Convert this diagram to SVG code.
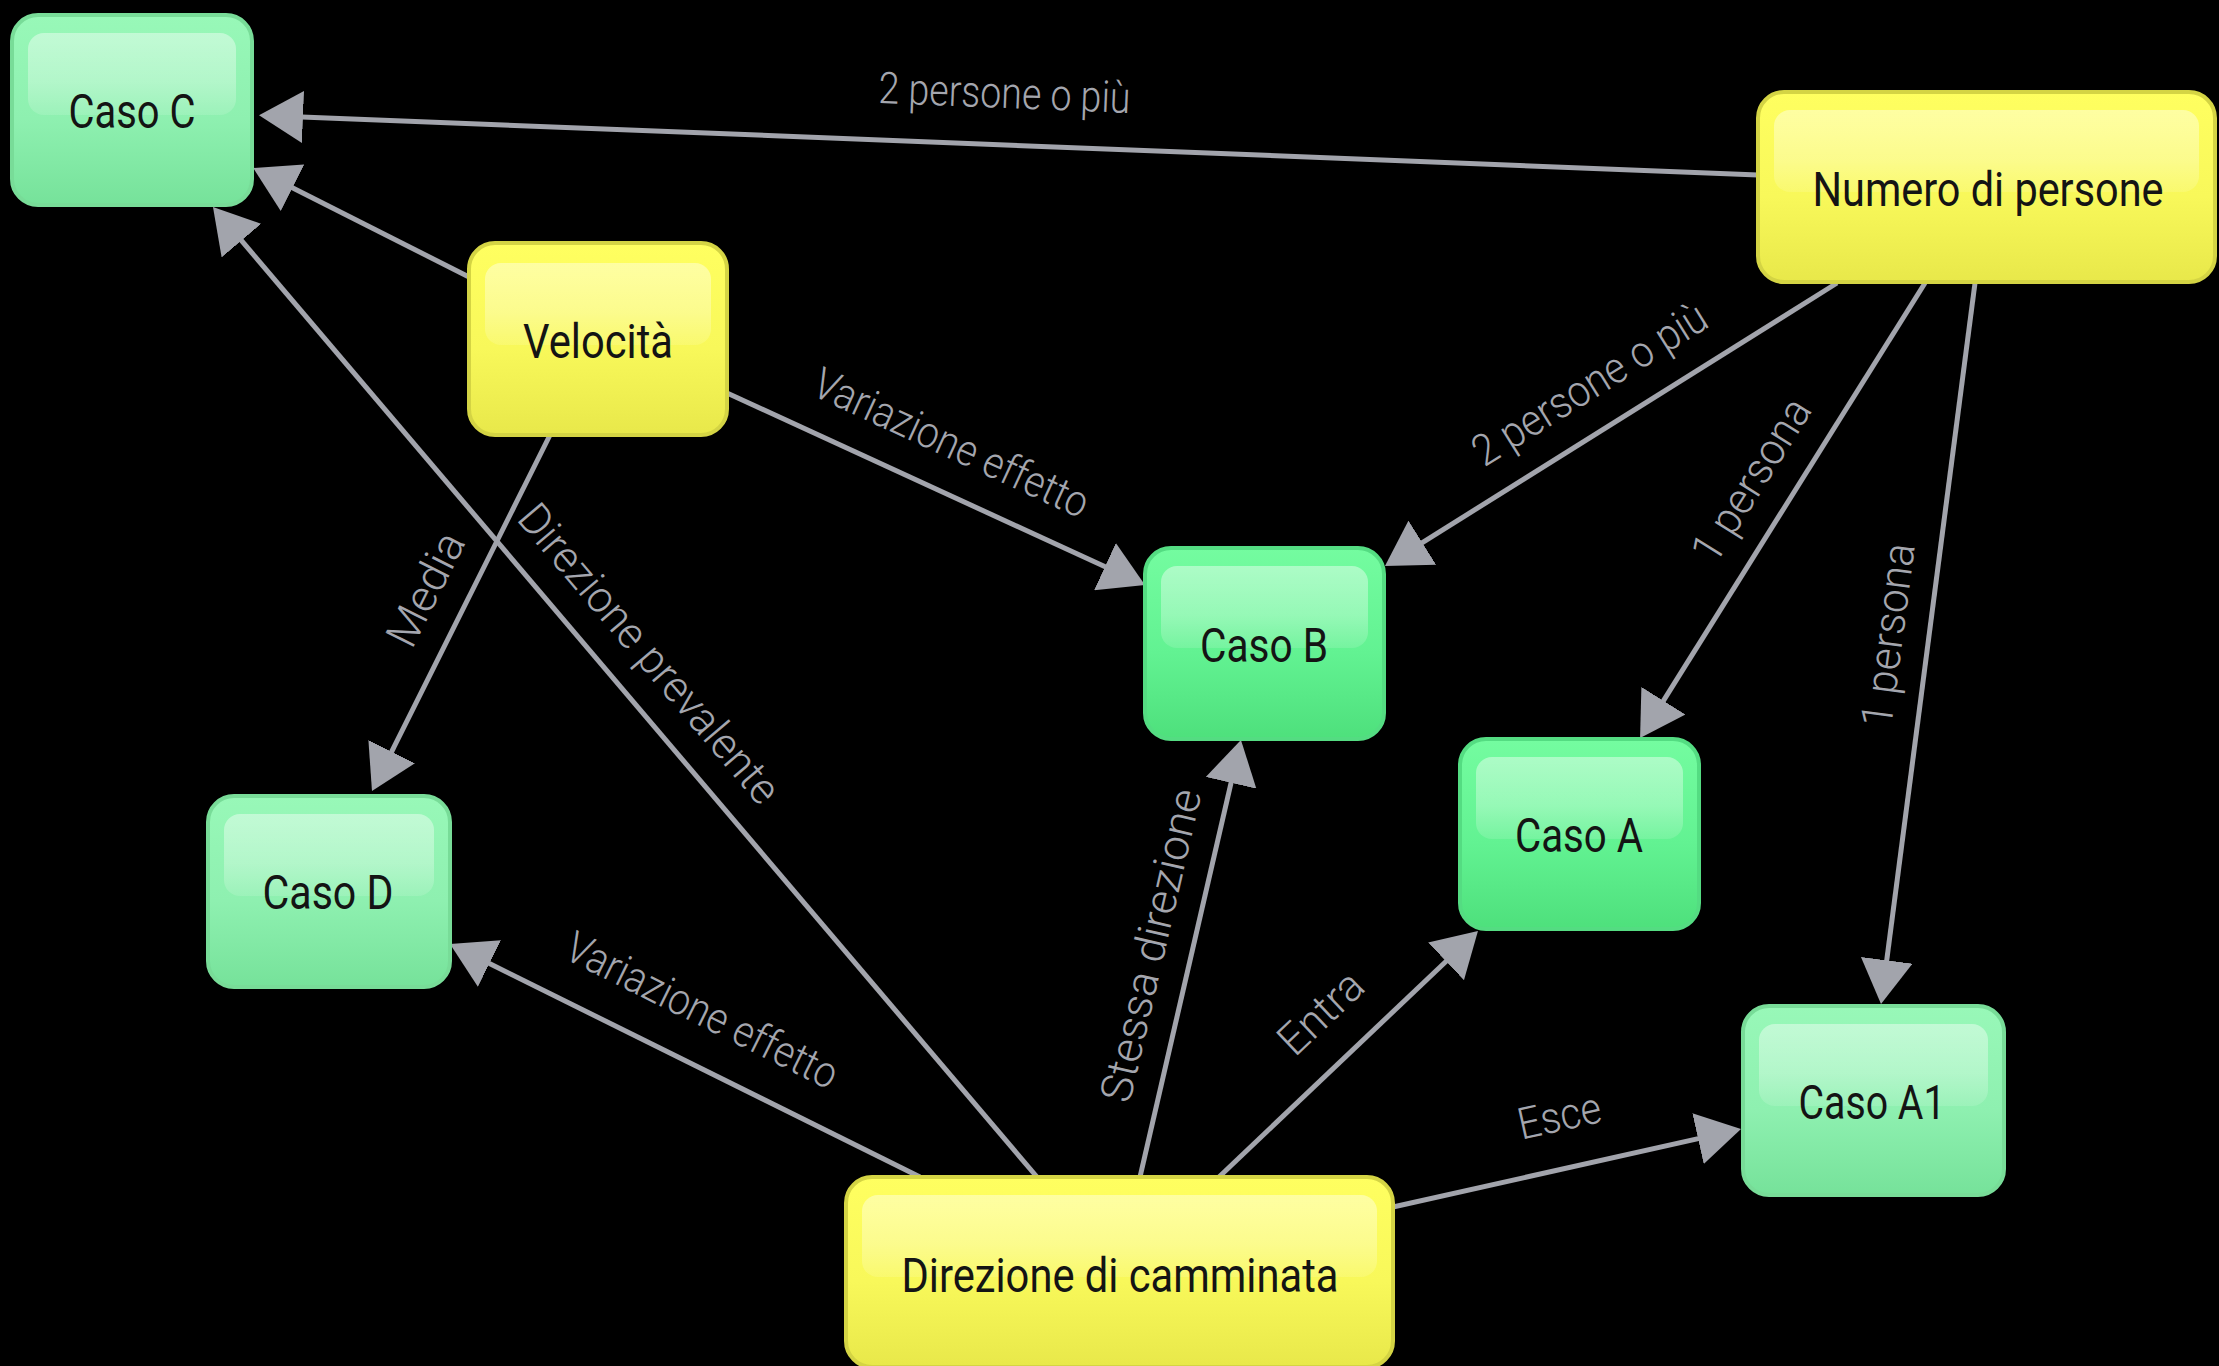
<svg xmlns="http://www.w3.org/2000/svg" width="2219" height="1366" viewBox="0 0 2219 1366">
<style>
.edge{fill:none;stroke:#a2a4ac;stroke-width:5;marker-end:url(#arrow)}
.lbl{font-family:Roboto,"Liberation Sans",sans-serif;font-weight:300;font-size:44px;fill:#a4a6ae;text-anchor:middle}
.ntxt{font-family:Roboto,"Liberation Sans",sans-serif;font-weight:400;font-size:49px;fill:#141414;text-anchor:middle}
.g1{fill:url(#gG1);stroke:#78dc98;stroke-width:4}
.g2{fill:url(#gG2);stroke:#54dc82;stroke-width:4}
.y{fill:url(#gY);stroke:#d4d444;stroke-width:4}
.hl{fill:url(#gHL)}
</style>
<defs>
<marker id="arrow" viewBox="0 0 44 52" markerWidth="44" markerHeight="52" refX="14" refY="26" orient="auto" markerUnits="userSpaceOnUse">
<path d="M0,0 L44,26 L0,52 z" fill="#a2a4ac"/>
</marker>
<linearGradient id="gG1" x1="0" y1="0" x2="0" y2="1">
<stop offset="0" stop-color="#98f8b8"/><stop offset="0.55" stop-color="#8ef0b0"/><stop offset="1" stop-color="#76e29a"/>
</linearGradient>
<linearGradient id="gG2" x1="0" y1="0" x2="0" y2="1">
<stop offset="0" stop-color="#74fca0"/><stop offset="0.55" stop-color="#62f292"/><stop offset="1" stop-color="#4ee07c"/>
</linearGradient>
<linearGradient id="gY" x1="0" y1="0" x2="0" y2="1">
<stop offset="0" stop-color="#ffff60"/><stop offset="0.55" stop-color="#f8f85a"/><stop offset="1" stop-color="#e8e84a"/>
</linearGradient>
<linearGradient id="gHL" x1="0" y1="0" x2="0" y2="1">
<stop offset="0" stop-color="#ffffff" stop-opacity="0.42"/><stop offset="0.6" stop-color="#ffffff" stop-opacity="0.3"/><stop offset="1" stop-color="#ffffff" stop-opacity="0.12"/>
</linearGradient>
</defs>
<rect x="0" y="0" width="2219" height="1366" fill="#000"/>
<g id="connectors">
<path class="edge" d="M1758,175 L289,116.4"/>
<path class="edge" d="M469,277 L280,181.5"/>
<path class="edge" d="M1037,1177 L232.4,229.9"/>
<path class="edge" d="M727,393 L1117.7,572.5"/>
<path class="edge" d="M550,435 L385.4,764.2"/>
<path class="edge" d="M1837,283 L1410.4,550.1"/>
<path class="edge" d="M1925,283 L1656,712.6"/>
<path class="edge" d="M1975,283 L1884.9,974.2"/>
<path class="edge" d="M920,1177 L476.9,957.3"/>
<path class="edge" d="M1140,1177 L1234.2,769.2"/>
<path class="edge" d="M1219,1177 L1456.2,951.7"/>
<path class="edge" d="M1393,1207 L1711.7,1135.6"/>
<text class="lbl" transform="translate(1004,108) rotate(2.28)" textLength="252" lengthAdjust="spacingAndGlyphs">2 persone o più</text>
<text class="lbl" transform="translate(945,456.5) rotate(24.7)" textLength="298" lengthAdjust="spacingAndGlyphs">Variazione effetto</text>
<text class="lbl" transform="translate(695.4,1023.8) rotate(26.4)" textLength="298" lengthAdjust="spacingAndGlyphs">Variazione effetto</text>
<text class="lbl" transform="translate(1597.5,396.6) rotate(-32.05)" textLength="268" lengthAdjust="spacingAndGlyphs">2 persone o più</text>
<text class="lbl" transform="translate(1764,488) rotate(-57.9)" textLength="185" lengthAdjust="spacingAndGlyphs">1 persona</text>
<text class="lbl" transform="translate(1903,637) rotate(-82.6)" textLength="185" lengthAdjust="spacingAndGlyphs">1 persona</text>
<text class="lbl" transform="translate(439,596) rotate(-63.4)" textLength="122" lengthAdjust="spacingAndGlyphs">Media</text>
<text class="lbl" transform="translate(637.8,663.4) rotate(49.66)" textLength="378" lengthAdjust="spacingAndGlyphs">Direzione prevalente</text>
<text class="lbl" transform="translate(1165.6,948.6) rotate(-77)" textLength="320" lengthAdjust="spacingAndGlyphs">Stessa direzione</text>
<text class="lbl" transform="translate(1331,1023.6) rotate(-43.5)" textLength="100" lengthAdjust="spacingAndGlyphs">Entra</text>
<text class="lbl" transform="translate(1562.5,1130.6) rotate(-12.6)" textLength="84" lengthAdjust="spacingAndGlyphs">Esce</text>
</g>
<g id="caso-c">
<rect class="g1" x="12" y="15" width="240" height="190" rx="26"/>
<rect class="hl" x="28" y="33" width="208" height="82" rx="16"/>
<text class="ntxt" x="132" y="128" textLength="127" lengthAdjust="spacingAndGlyphs">Caso C</text>
</g>
<g id="velocita">
<rect class="y" x="469" y="243" width="258" height="192" rx="26"/>
<rect class="hl" x="485" y="263" width="226" height="82" rx="16"/>
<text class="ntxt" x="598" y="358" textLength="150" lengthAdjust="spacingAndGlyphs">Velocità</text>
</g>
<g id="numero-di-persone">
<rect class="y" x="1758" y="92" width="457" height="190" rx="26"/>
<rect class="hl" x="1774" y="110" width="425" height="82" rx="16"/>
<text class="ntxt" x="1988" y="206" textLength="351" lengthAdjust="spacingAndGlyphs">Numero di persone</text>
</g>
<g id="direzione-di-camminata">
<rect class="y" x="846" y="1177" width="547" height="190" rx="26"/>
<rect class="hl" x="862" y="1195" width="515" height="82" rx="16"/>
<text class="ntxt" x="1120" y="1292" textLength="437" lengthAdjust="spacingAndGlyphs">Direzione di camminata</text>
</g>
<g id="caso-b">
<rect class="g2" x="1145" y="548" width="239" height="191" rx="26"/>
<rect class="hl" x="1161" y="566" width="207" height="82" rx="16"/>
<text class="ntxt" x="1264" y="662" textLength="128" lengthAdjust="spacingAndGlyphs">Caso B</text>
</g>
<g id="caso-a">
<rect class="g2" x="1460" y="739" width="239" height="190" rx="26"/>
<rect class="hl" x="1476" y="757" width="207" height="82" rx="16"/>
<text class="ntxt" x="1579" y="852" textLength="128" lengthAdjust="spacingAndGlyphs">Caso A</text>
</g>
<g id="caso-d">
<rect class="g1" x="208" y="796" width="242" height="191" rx="26"/>
<rect class="hl" x="224" y="814" width="210" height="82" rx="16"/>
<text class="ntxt" x="328" y="909" textLength="131" lengthAdjust="spacingAndGlyphs">Caso D</text>
</g>
<g id="caso-a1">
<rect class="g1" x="1743" y="1006" width="261" height="189" rx="26"/>
<rect class="hl" x="1759" y="1024" width="229" height="82" rx="16"/>
<text class="ntxt" x="1872" y="1119" textLength="147" lengthAdjust="spacingAndGlyphs">Caso A1</text>
</g>
</svg>
